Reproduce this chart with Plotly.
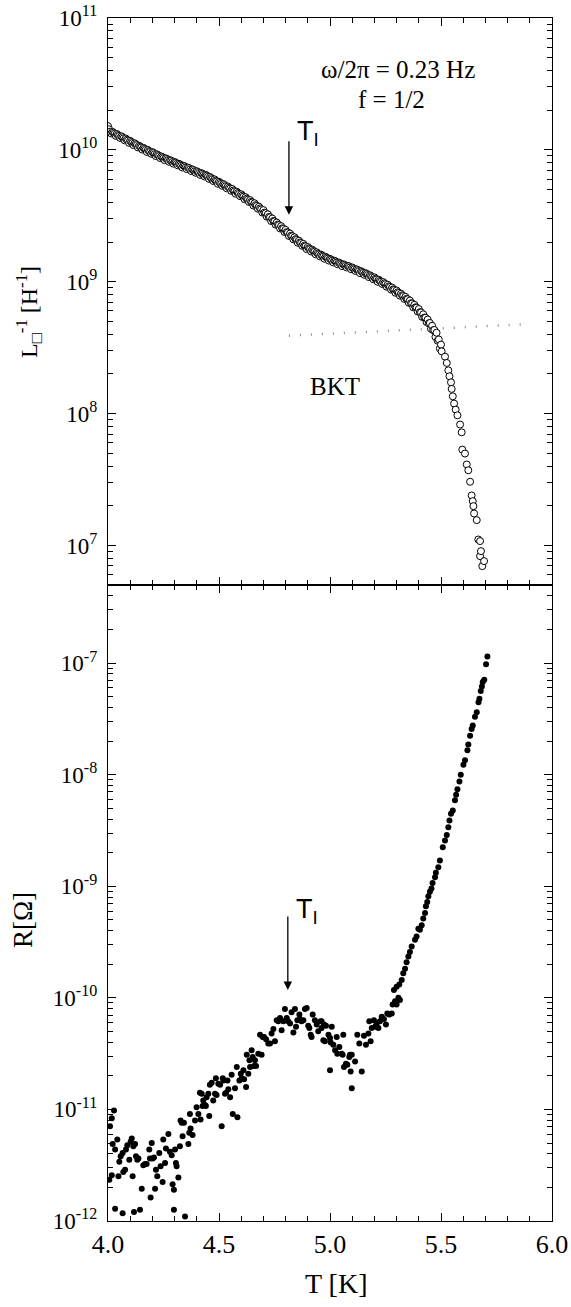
import plotly.graph_objects as go

# ---------------- data ----------------
# Top panel: inverse sheet inductance L^-1 [H^-1] vs T (open circles), stored as log10 values
T_top = [4.00, 4.00, 4.01, 4.02, 4.03, 4.04, 4.05, 4.06, 4.07, 4.08, 4.09,
         4.10, 4.11, 4.12, 4.13, 4.14, 4.15, 4.16, 4.17, 4.18, 4.19,
         4.20, 4.21, 4.22, 4.23, 4.24, 4.25, 4.26, 4.27, 4.28, 4.29,
         4.30, 4.31, 4.32, 4.33, 4.34, 4.35, 4.36, 4.37, 4.38, 4.39,
         4.40, 4.41, 4.42, 4.43, 4.44, 4.45, 4.46, 4.47, 4.48, 4.49,
         4.50, 4.51, 4.52, 4.53, 4.54, 4.55, 4.56, 4.57, 4.58, 4.59,
         4.60, 4.61, 4.62, 4.63, 4.64, 4.65, 4.66, 4.67, 4.68, 4.69,
         4.70, 4.71, 4.72, 4.73, 4.74, 4.75, 4.76, 4.77, 4.78, 4.79,
         4.80, 4.81, 4.82, 4.83, 4.84, 4.85, 4.86, 4.87, 4.88, 4.89,
         4.90, 4.91, 4.92, 4.93, 4.94, 4.95, 4.96, 4.97, 4.98, 4.99,
         5.00, 5.01, 5.02, 5.03, 5.04, 5.05, 5.06, 5.07, 5.08, 5.09,
         5.10, 5.11, 5.12, 5.13, 5.14, 5.15, 5.16, 5.17, 5.18, 5.19,
         5.20, 5.21, 5.22, 5.23, 5.24, 5.25, 5.26, 5.27, 5.28, 5.29,
         5.30, 5.31, 5.32, 5.33, 5.34, 5.35, 5.36, 5.37, 5.38, 5.39,
         5.40, 5.41, 5.42, 5.43, 5.44, 5.45, 5.46, 5.47, 5.48, 5.49,
         5.50, 5.503, 5.518, 5.526, 5.533, 5.538, 5.545, 5.548, 5.553, 5.559,
         5.566, 5.574, 5.586, 5.593, 5.596, 5.608, 5.616, 5.623, 5.631, 5.638,
         5.643, 5.646, 5.649, 5.661, 5.668, 5.676, 5.680, 5.676, 5.694, 5.686]
logL_top = [10.180, 10.150, 10.138, 10.136, 10.122, 10.120, 10.106, 10.103, 10.088, 10.086, 10.071,
            10.068, 10.052, 10.050, 10.036, 10.031, 10.018, 10.015, 10.000, 9.999, 9.985,
            9.983, 9.968, 9.966, 9.953, 9.950, 9.937, 9.936, 9.922, 9.922, 9.908,
            9.908, 9.894, 9.894, 9.880, 9.880, 9.866, 9.866, 9.852, 9.852, 9.838,
            9.838, 9.824, 9.824, 9.810, 9.810, 9.796, 9.794, 9.778, 9.776, 9.760,
            9.758, 9.742, 9.740, 9.724, 9.722, 9.706, 9.703, 9.686, 9.683, 9.666,
            9.663, 9.645, 9.641, 9.623, 9.619, 9.601, 9.595, 9.575, 9.569, 9.549,
            9.543, 9.520, 9.511, 9.489, 9.479, 9.457, 9.449, 9.429, 9.421, 9.401,
            9.393, 9.373, 9.365, 9.345, 9.337, 9.317, 9.311, 9.293, 9.287, 9.269,
            9.263, 9.247, 9.243, 9.227, 9.223, 9.207, 9.205, 9.191, 9.189, 9.175,
            9.173, 9.160, 9.159, 9.146, 9.145, 9.132, 9.132, 9.120, 9.120, 9.108,
            9.108, 9.095, 9.094, 9.081, 9.080, 9.067, 9.065, 9.051, 9.049, 9.035,
            9.033, 9.018, 9.015, 9.000, 8.997, 8.982, 8.977, 8.960, 8.955, 8.938,
            8.933, 8.915, 8.909, 8.891, 8.885, 8.867, 8.857, 8.835, 8.825, 8.803,
            8.793, 8.767, 8.753, 8.727, 8.713, 8.687, 8.666, 8.634, 8.613, 8.562,
            8.523, 8.472, 8.432, 8.384, 8.328, 8.283, 8.237, 8.187, 8.131, 8.076,
            8.030, 7.987, 7.917, 7.858, 7.727, 7.697, 7.614, 7.570, 7.483, 7.379,
            7.336, 7.298, 7.242, 7.192, 7.045, 7.033, 6.957, 6.919, 6.881, 6.843]

# second (interleaved) sweep of the dense part of the top curve
T_top_b = [4.005, 4.015, 4.025, 4.035, 4.045, 4.055, 4.065, 4.075, 4.085, 4.095,
           4.105, 4.115, 4.125, 4.135, 4.145, 4.155, 4.165, 4.175, 4.185, 4.195,
           4.205, 4.215, 4.225, 4.235, 4.245, 4.255, 4.265, 4.275, 4.285, 4.295,
           4.305, 4.315, 4.325, 4.335, 4.345, 4.355, 4.365, 4.375, 4.385, 4.395,
           4.405, 4.415, 4.425, 4.435, 4.445, 4.455, 4.465, 4.475, 4.485, 4.495,
           4.505, 4.515, 4.525, 4.535, 4.545, 4.555, 4.565, 4.575, 4.585, 4.595,
           4.605, 4.615, 4.625, 4.635, 4.645, 4.655, 4.665, 4.675, 4.685, 4.695,
           4.705, 4.715, 4.725, 4.735, 4.745, 4.755, 4.765, 4.775, 4.785, 4.795,
           4.805, 4.815, 4.825, 4.835, 4.845, 4.855, 4.865, 4.875, 4.885, 4.895,
           4.905, 4.915, 4.925, 4.935, 4.945, 4.955, 4.965, 4.975, 4.985, 4.995,
           5.005, 5.015, 5.025, 5.035, 5.045, 5.055, 5.065, 5.075, 5.085, 5.095,
           5.105, 5.115, 5.125, 5.135, 5.145, 5.155, 5.165, 5.175, 5.185, 5.195,
           5.205, 5.215, 5.225, 5.235, 5.245, 5.255, 5.265, 5.275, 5.285, 5.295,
           5.305, 5.315, 5.325, 5.335, 5.345, 5.355, 5.365, 5.375, 5.385, 5.395,
           5.405, 5.415, 5.425, 5.435, 5.445, 5.455, 5.465, 5.475, 5.485, 5.495]
logL_top_b = [10.156, 10.124, 10.130, 10.106, 10.112, 10.090, 10.096, 10.072, 10.077, 10.053,
              10.060, 10.036, 10.043, 10.018, 10.024, 10.002, 10.008, 9.984, 9.991, 9.970,
              9.977, 9.953, 9.960, 9.938, 9.944, 9.922, 9.931, 9.910, 9.918, 9.895,
              9.903, 9.882, 9.888, 9.866, 9.875, 9.854, 9.862, 9.839, 9.847, 9.826,
              9.832, 9.810, 9.819, 9.798, 9.805, 9.780, 9.786, 9.763, 9.767, 9.743,
              9.750, 9.727, 9.733, 9.708, 9.713, 9.689, 9.692, 9.667, 9.673, 9.649,
              9.653, 9.626, 9.630, 9.605, 9.606, 9.578, 9.581, 9.554, 9.556, 9.525,
              9.524, 9.494, 9.491, 9.460, 9.461, 9.433, 9.434, 9.404, 9.405, 9.377,
              9.376, 9.347, 9.349, 9.321, 9.323, 9.295, 9.298, 9.272, 9.273, 9.247,
              9.253, 9.229, 9.234, 9.208, 9.214, 9.192, 9.197, 9.174, 9.182, 9.160,
              9.168, 9.146, 9.154, 9.132, 9.139, 9.118, 9.128, 9.108, 9.117, 9.095,
              9.102, 9.081, 9.088, 9.065, 9.074, 9.052, 9.059, 9.035, 9.042, 9.019,
              9.023, 8.999, 9.006, 8.983, 8.988, 8.962, 8.965, 8.940, 8.942, 8.916,
              8.920, 8.894, 8.897, 8.869, 8.870, 8.840, 8.837, 8.806, 8.806, 8.774,
              8.769, 8.733, 8.728, 8.694, 8.684, 8.642, 8.632, 8.582, 8.552, 8.493]

# BKT universal-jump line (dotted)
T_bkt = [4.815, 5.87]
L_bkt = [3.9e8, 4.75e8]

# Bottom panel: resistance R [Ohm] vs T (filled dots), stored as log10 values
T_bot = [4.006, 4.017, 4.009, 4.017, 4.027, 4.021, 4.032, 4.042, 4.047, 4.051,
         4.057, 4.066, 4.069, 4.077, 4.081, 4.087, 4.096, 4.102, 4.107, 4.111,
         4.114, 4.122, 4.126, 4.132, 4.137, 4.152, 4.159, 4.167, 4.174, 4.186,
         4.189, 4.192, 4.197, 4.201, 4.207, 4.212, 4.216, 4.222, 4.231, 4.237,
         4.246, 4.249, 4.257, 4.261, 4.272, 4.279, 4.287, 4.291, 4.297, 4.302,
         4.306, 4.309, 4.317, 4.324, 4.327, 4.332, 4.336, 4.342, 4.362, 4.366,
         4.369, 4.372, 4.381, 4.392, 4.399, 4.407, 4.414, 4.417, 4.422, 4.426,
         4.429, 4.437, 4.441, 4.444, 4.452, 4.456, 4.459, 4.467, 4.474, 4.482,
         4.486, 4.489, 4.497, 4.505, 4.512, 4.517, 4.520, 4.527, 4.532, 4.538,
         4.542, 4.550, 4.557, 4.562, 4.572, 4.580, 4.583, 4.592, 4.598, 4.602,
         4.610, 4.613, 4.622, 4.625, 4.632, 4.637, 4.640, 4.647, 4.652, 4.658,
         4.662, 4.667, 4.677, 4.685, 4.692, 4.697, 4.703, 4.712, 4.722, 4.730,
         4.737, 4.745, 4.752, 4.760, 4.767, 4.775, 4.782, 4.790, 4.797, 4.805,
         4.812, 4.820, 4.827, 4.835, 4.842, 4.847, 4.853, 4.862, 4.865, 4.872,
         4.880, 4.887, 4.895, 4.902, 4.907, 4.913, 4.917, 4.922, 4.932, 4.940,
         4.947,
         4.032, 4.066, 4.117, 4.144, 4.297, 4.347,
         4.958, 4.962, 4.962, 4.970, 4.973, 4.977, 4.982, 4.993, 5.000, 5.000,
         5.008, 5.003, 5.015, 5.023, 5.030, 5.033, 5.042, 5.053, 5.057, 5.060,
         5.063, 5.072, 5.078, 5.087, 5.090, 5.098, 5.093, 5.113, 5.098, 5.143,
         5.123, 5.132, 5.153, 5.162, 5.173, 5.177, 5.183, 5.188, 5.198, 5.203,
         5.210, 5.218, 5.225, 5.233, 5.243, 5.252, 5.258, 5.267, 5.278, 5.282,
         5.293, 5.300, 5.308, 5.315, 5.288, 5.300, 5.312,
         5.323, 5.330, 5.338, 5.345, 5.353, 5.360, 5.368, 5.383, 5.390, 5.398,
         5.405, 5.413, 5.420, 5.428, 5.432, 5.438, 5.443, 5.450, 5.457, 5.462,
         5.473, 5.477, 5.488, 5.495, 5.508, 5.518, 5.526, 5.533, 5.538, 5.545,
         5.553, 5.563, 5.568, 5.574, 5.583, 5.589, 5.601, 5.608, 5.619, 5.623,
         5.631, 5.638, 5.643, 5.653, 5.661, 5.669, 5.673, 5.679, 5.684, 5.688,
         5.695, 5.703, 5.709]
logR_bot = [-11.63, -11.59, -11.15, -11.08, -11.01, -11.31, -11.36, -11.27, -11.60, -11.47,
            -11.42, -11.39, -11.56, -11.54, -11.36, -11.32, -11.45, -11.29, -11.26, -11.60,
            -11.33, -11.31, -11.42, -11.45, -11.44, -11.71, -11.50, -11.49, -11.49, -11.36,
            -11.44, -11.79, -11.30, -11.44, -11.43, -11.71, -11.54, -11.60, -11.39, -11.51,
            -11.65, -11.27, -11.48, -11.35, -11.22, -11.38, -11.41, -11.67, -11.72, -11.36,
            -11.48, -11.51, -11.61, -11.33, -11.10, -11.12, -11.24, -11.12, -11.31, -11.21,
            -11.04, -11.17, -11.23, -11.10, -10.98, -11.04, -10.85, -11.09, -10.86, -10.97,
            -10.92, -10.96, -10.97, -10.89, -10.86, -11.06, -10.78, -10.76, -10.92, -10.86,
            -10.72, -10.87, -10.77, -10.78, -11.15, -10.72, -10.74, -10.86, -10.85, -10.74,
            -10.82, -10.89, -10.69, -11.04, -10.81, -10.62, -11.07, -10.74, -10.68, -10.72,
            -10.65, -10.73, -10.80, -10.51, -10.68, -10.56, -10.62, -10.47, -10.53, -10.61,
            -10.56, -10.61, -10.50, -10.33, -10.51, -10.35, -10.35, -10.37, -10.41, -10.41,
            -10.32, -10.28, -10.39, -10.20, -10.21, -10.18, -10.29, -10.21, -10.10, -10.18,
            -10.21, -10.23, -10.13, -10.31, -10.10, -10.26, -10.20, -10.15, -10.19, -10.21,
            -10.20, -10.10, -10.09, -10.25, -10.27, -10.33, -10.35, -10.15, -10.20, -10.24,
            -10.30,
            -11.89, -11.93, -11.92, -11.90, -11.90, -11.96,
            -10.21, -10.27, -10.21, -10.38, -10.24, -10.39, -10.25, -10.33, -10.36, -10.65,
            -10.26, -10.40, -10.42, -10.47, -10.35, -10.50, -10.44, -10.50, -10.51, -10.33,
            -10.62, -10.59, -10.60, -10.53, -10.51, -10.51, -10.66, -10.57, -10.81, -10.66,
            -10.33, -10.41, -10.34, -10.42, -10.32, -10.21, -10.39, -10.27, -10.20, -10.26,
            -10.23, -10.27, -10.21, -10.17, -10.19, -10.24, -10.14, -10.15, -10.14, -10.06,
            -10.03, -10.06, -10.00, -10.02, -9.93, -9.90, -9.88,
            -9.84, -9.78, -9.74, -9.68, -9.63, -9.59, -9.54, -9.48, -9.45, -9.38,
            -9.39, -9.35, -9.29, -9.24, -9.18, -9.14, -9.09, -9.05, -9.02, -8.97,
            -8.92, -8.88, -8.83, -8.77, -8.65, -8.59, -8.54, -8.47, -8.41, -8.35,
            -8.32, -8.23, -8.18, -8.13, -8.06, -8.00, -7.91, -7.87, -7.78, -7.73,
            -7.65, -7.59, -7.56, -7.48, -7.44, -7.35, -7.32, -7.25, -7.21, -7.17,
            -7.15, -7.01, -6.94]

top_tick_exp = [7, 8, 9, 10, 11]
bot_tick_exp = [-12, -11, -10, -9, -8, -7]

# merge both sweeps of the top curve, ordered by temperature
top_pairs = sorted(zip(T_top + T_top_b, logL_top + logL_top_b), key=lambda p: p[0])
T_top_all = [p[0] for p in top_pairs]
L_top_all = [10 ** p[1] for p in top_pairs]
R_bot = [10 ** v for v in logR_bot]

# ---------------- figure ----------------
SERIF = "Liberation Serif"
SANS = "Liberation Sans"

fig = go.Figure()

fig.add_trace(go.Scatter(x=T_bkt, y=L_bkt, mode="lines", xaxis="x2", yaxis="y2",
                         line=dict(color="#8a8a8a", width=2.5, dash="1px,10px"),
                         showlegend=False, hoverinfo="skip"))
fig.add_trace(go.Scatter(x=T_top_all, y=L_top_all, mode="markers", xaxis="x2", yaxis="y2",
                         marker=dict(symbol="circle", size=7, color="white",
                                     line=dict(color="black", width=1)),
                         showlegend=False))
fig.add_trace(go.Scatter(x=T_bot, y=R_bot, mode="markers", xaxis="x", yaxis="y",
                         marker=dict(symbol="circle", size=6, color="black", line=dict(width=0)),
                         showlegend=False))


def minor_vals(exps):
    vals = []
    for e in range(min(exps) - 1, max(exps) + 1):
        for k in range(2, 10):
            vals.append(k * 10.0 ** e)
    return vals


xcommon = dict(range=[4.0, 6.0], tick0=4.0, dtick=0.5, tickformat=".1f",
               ticks="inside", ticklen=8, tickwidth=1.2, tickcolor="black",
               minor=dict(dtick=0.1, ticks="inside", ticklen=4.5, tickwidth=1.2,
                          tickcolor="black", showgrid=False),
               showline=True, linecolor="black", linewidth=1.3, mirror="ticks",
               showgrid=False, zeroline=False, automargin=False, ticklabeloverflow="allow",
               tickfont=dict(family=SERIF, size=26, color="black"))

ycommon = dict(type="log", ticks="inside", ticklen=8, tickwidth=1.2, tickcolor="black",
               showline=True, linecolor="black", linewidth=1.3, mirror="ticks",
               showgrid=False, zeroline=False, ticklabelstandoff=5, automargin=False,
               ticklabeloverflow="allow",
               tickfont=dict(family=SERIF, size=23, color="black"))

split = (1221 - 585) / 1203.0

fig.update_layout(
    width=571, height=1307,
    margin=dict(l=108, r=19, t=18, b=86, autoexpand=False),
    paper_bgcolor="white", plot_bgcolor="white",
    xaxis=dict(domain=[0, 1], anchor="y", **xcommon),
    xaxis2=dict(domain=[0, 1], anchor="y2", matches="x", showticklabels=False, **xcommon),
    yaxis=dict(domain=[0, split], anchor="x", range=[-12, -6.3],
               tickmode="array", tickvals=[10.0 ** e for e in bot_tick_exp],
               ticktext=["10<sup>%d</sup>" % e for e in bot_tick_exp],
               minor=dict(tickmode="array", tickvals=minor_vals(bot_tick_exp), ticks="inside",
                          ticklen=4.5, tickwidth=1.2, tickcolor="black", showgrid=False),
               **ycommon),
    yaxis2=dict(domain=[split, 1], anchor="x2", range=[6.7, 11],
                tickmode="array", tickvals=[10.0 ** e for e in top_tick_exp],
                ticktext=["10<sup>%d</sup>" % e for e in top_tick_exp],
                minor=dict(tickmode="array", tickvals=minor_vals(top_tick_exp), ticks="inside",
                           ticklen=4.5, tickwidth=1.2, tickcolor="black", showgrid=False),
                **ycommon),
)

# plot-area helpers for paper coordinates (page pixels of the reference)
def px_x(p):
    return (p - 108) / 444.0

def px_y(p):
    return (1221 - p) / 1203.0

ann = []
# axis titles
ann.append(dict(text="T [K]", x=px_x(336), y=px_y(1283), xref="paper", yref="paper",
                showarrow=False, font=dict(family=SERIF, size=28, color="black"),
                xanchor="center", yanchor="middle"))
ann.append(dict(text="R[Ω]", x=px_x(23), y=px_y(920), xref="paper", yref="paper",
                showarrow=False, textangle=-90, font=dict(family=SERIF, size=27, color="black"),
                xanchor="center", yanchor="middle"))
ann.append(dict(text="L<sub>□</sub><sup>-1</sup> [H<sup>-1</sup>]", x=px_x(29), y=px_y(312),
                xref="paper", yref="paper", showarrow=False, textangle=-90,
                font=dict(family=SERIF, size=24, color="black"),
                xanchor="center", yanchor="middle"))
# top panel texts
ann.append(dict(text="ω/2π = 0.23 Hz", x=5.306, y=10.61, xref="x2", yref="y2",
                showarrow=False, font=dict(family=SERIF, size=25, color="black"),
                xanchor="center", yanchor="middle"))
ann.append(dict(text="f = 1/2", x=5.275, y=10.38, xref="x2", yref="y2",
                showarrow=False, font=dict(family=SERIF, size=25, color="black"),
                xanchor="center", yanchor="middle"))
ann.append(dict(text="BKT", x=5.023, y=8.205, xref="x2", yref="y2",
                showarrow=False, font=dict(family=SERIF, size=25, color="black"),
                xanchor="center", yanchor="middle"))
# T_I arrows
ann.append(dict(text="", x=4.815, y=9.508, xref="x2", yref="y2", showarrow=True,
                ax=0, ay=-75, arrowhead=2, arrowsize=1.3, arrowwidth=1.3, arrowcolor="black"))
ann.append(dict(text="T<sub>I</sub>", x=4.842, y=10.27, xref="x2", yref="y2",
                showarrow=False, font=dict(family=SANS, size=27, color="black"),
                xanchor="left", yanchor="top"))
ann.append(dict(text="", x=4.810, y=-9.93, xref="x", yref="y", showarrow=True,
                ax=0, ay=-75, arrowhead=2, arrowsize=1.3, arrowwidth=1.3, arrowcolor="black"))
ann.append(dict(text="T<sub>I</sub>", x=4.836, y=-9.05, xref="x", yref="y",
                showarrow=False, font=dict(family=SANS, size=27, color="black"),
                xanchor="left", yanchor="top"))
fig.update_layout(annotations=ann)

# remove the browser's default 8px page margin so the figure sits at the page origin
fig.write_html("out.html",
               config={"displayModeBar": False},
               post_script="document.body.style.margin='0';document.body.style.overflow='hidden';")
